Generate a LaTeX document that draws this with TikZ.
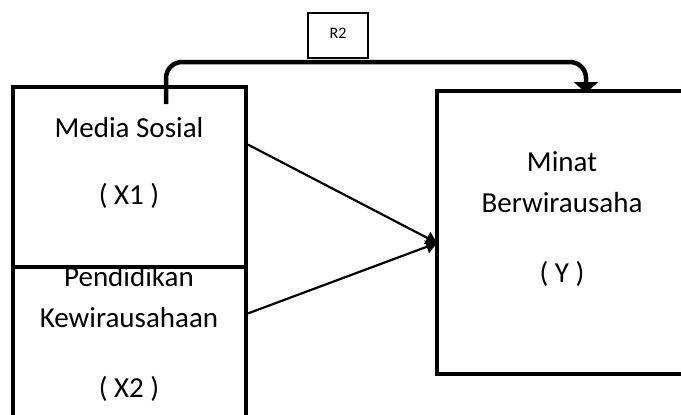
\documentclass[tikz,border=0pt]{standalone}
\usepackage{fontspec}
\setmainfont{Carlito}
\usetikzlibrary{arrows.meta,calc}
\begin{document}
\begin{tikzpicture}[x=1pt,y=-1pt,
  box/.style={draw, line width=4.5pt, inner sep=0pt, outer sep=0pt, anchor=north west},
  lbl/.style={font=\fontsize{29}{34}\selectfont, anchor=base, inner sep=0pt},
  link/.style={line width=2.2pt, -{Triangle[length=11pt,width=13pt]}},
  toplink/.style={line width=4.5pt, rounded corners=16pt, -{Triangle[length=11pt,width=24pt]}},
  rbox/.style={draw, line width=1.5pt, inner sep=0pt, outer sep=0pt, anchor=north west, fill=white}]
\useasboundingbox (0,0) rectangle (681,415);
% X2 box and its text (drawn first so the X1 box covers the text top)
\node[box, minimum width=233pt, minimum height=160pt] (X2) at (13,267) {};
\node[lbl] (t2a) at (129,286) {Pendidikan};
\node[lbl] (t2b) at (129,327) {Kewirausahaan};
\node[lbl] (t2c) at (129,397) {( X2 )};
% X1 box
\node[box, minimum width=233pt, minimum height=180pt] (X1) at (13,87) {};
\node[lbl] (t1a) at (129,137) {Media Sosial};
\node[lbl] (t1b) at (129,204) {( X1 )};
% Y box
\node[box, minimum width=270pt, minimum height=283pt] (Y) at (437,91) {};
\node[lbl] (tya) at (562,171) {Minat};
\node[lbl] (tyb) at (562,212) {Berwirausaha};
\node[lbl] (tyc) at (562,282) {( Y )};
% R2 box
\node[rbox, minimum width=60pt, minimum height=45pt] (R2) at (308,13) {};
\node[font=\fontsize{16}{19}\selectfont, anchor=base, inner sep=0pt] (r2t) at (338,38) {R2};
% connectors
\draw[link] ($(X1.north east)!0.32!(X1.south east)+(2,0)$) -- ($(Y.north west)!0.537!(Y.south west)$);
\draw[link] ($(X2.north east)!0.29!(X2.south east)+(2,0)$) -- ($(Y.north west)!0.537!(Y.south west)$);
\coordinate (cs) at ($(X1.north west)+(153,17)$);
\coordinate (ce) at ($(Y.north west)+(149,2)$);
\draw[toplink] (cs) -- (cs |- 0,62) -- (ce |- 0,62) -- (ce);
\end{tikzpicture}
\end{document}
